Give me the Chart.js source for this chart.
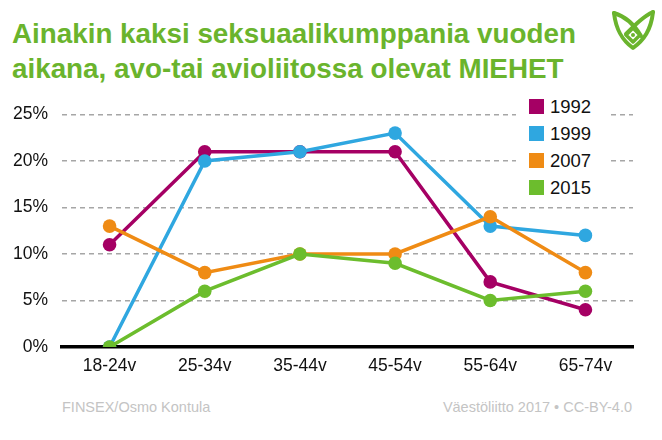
<!DOCTYPE html>
<html>
<head>
<meta charset="utf-8">
<script src="https://cdn.jsdelivr.net/npm/chart.js@4"></script>
<style>
  body { margin: 0; background: #fff; font-family: "Liberation Sans", Arial, sans-serif; }
  #page { position: relative; width: 662px; height: 440px; overflow: hidden; }
  #title { position: absolute; left: 12px; top: 16px; color: #6ab42d; font-weight: bold; font-size: 27.8px; line-height: 35px; }
  #logo { position: absolute; left: 608px; top: 6px; }
  #wrap { position: absolute; left: 0; top: 90px; width: 662px; height: 296px; }
  #legend { position: absolute; left: 516px; top: 92px; width: 92px; height: 110px; background: #fff; }
  .row { position: absolute; left: 13px; font-size: 18.5px; line-height: 20px; color: #111; }
  .row span { display: inline-block; width: 15px; height: 15px; margin-right: 6px; vertical-align: -1px; }
  .foot { position: absolute; top: 399px; font-size: 14.5px; color: #c4c4c4; }
</style>
</head>
<body>
<div id="page">
  <div id="title">Ainakin kaksi seksuaalikumppania vuoden<br>aikana, avo-tai avioliitossa olevat MIEHET</div>
  <svg id="logo" width="50" height="46" viewBox="0 0 50 46">
    <path d="M6 7 C8 24 14 34 25 42 C36 34 43 24 45 6" fill="none" stroke="#6ab42d" stroke-width="4" stroke-linejoin="round" stroke-linecap="round"/>
    <path d="M6 7 C16 10 26 18 33 30" fill="none" stroke="#6ab42d" stroke-width="4" stroke-linecap="round"/>
    <path d="M45 6 C36 10 28 18 18 28" fill="none" stroke="#6ab42d" stroke-width="4" stroke-linecap="round"/>
    <path d="M25 22 L32 29 L25 36 L18 29 Z" fill="#fff" stroke="#6ab42d" stroke-width="3.5" stroke-linejoin="round"/>
    <circle cx="25" cy="29" r="2" fill="#6ab42d"/>
  </svg>
  <div id="wrap"><canvas id="chart"></canvas></div>
  <div id="legend"></div>
  <div class="foot" style="left:62px">FINSEX/Osmo Kontula</div>
  <div class="foot" style="right:30px">Väestöliitto 2017 • CC-BY-4.0</div>
</div>
<script>
// data
var ageGroups = ['18-24v', '25-34v', '35-44v', '45-54v', '55-64v', '65-74v'];
var years = ['1992', '1999', '2007', '2015'];
var v1992 = [11, 21, 21, 21, 7, 4];
var v1999 = [0, 20, 21, 23, 13, 12];
var v2007 = [13, 8, 10, 10, 14, 8];
var v2015 = [0, 6, 10, 9, 5, 6];
var yTicks = [0, 5, 10, 15, 20, 25];

var colors = ['#a50064', '#2fa7e0', '#ef8b14', '#6cbd2d'];
var values = [v1992, v1999, v2007, v2015];

var datasets = [];
for (var i = 0; i < years.length; i++) {
  datasets.push({
    label: years[i],
    data: values[i],
    borderColor: colors[i],
    backgroundColor: colors[i],
    pointBackgroundColor: colors[i],
    pointBorderWidth: 0,
    pointRadius: 6.8,
    borderWidth: 3.5,
    tension: 0,
    order: years.length - i   // myöhempi vuosi päällimmäiseksi
  });
}

// legenda html:nä
var lg = document.getElementById('legend');
for (var j = 0; j < years.length; j++) {
  var r = document.createElement('div');
  r.className = 'row';
  r.style.top = (5 + j * 27) + 'px';
  r.innerHTML = '<span style="background:' + colors[j] + '"></span>' + years[j];
  lg.appendChild(r);
}

var config = {
  type: 'line',
  data: { labels: ageGroups, datasets: datasets },
  options: {
    responsive: false,
    animation: false,
    layout: { padding: { top: 2, right: 29, left: 0, bottom: 0 } },
    plugins: { legend: { display: false }, tooltip: { enabled: false } },
    scales: {
      x: {
        offset: true,
        grid: { display: false, drawTicks: false, offset: true },
        border: { color: '#000', width: 3.5 },
        ticks: { color: '#111', font: { family: 'Liberation Sans', size: 17.5 }, padding: 9 }
      },
      y: {
        min: 0, max: 25,
        afterFit: function(s) { s.width = 62; },
        afterBuildTicks: function(s) { s.ticks = yTicks.map(function(v) { return { value: v }; }); },
        grid: { color: '#a6a6a6', lineWidth: 1.5, drawTicks: false },
        border: { display: true, width: 0, color: 'rgba(0,0,0,0)', dash: [5, 4] },
        ticks: {
          color: '#111', font: { family: 'Liberation Sans', size: 17.5 }, padding: 14,
          callback: function(v) { return v + '%'; }
        }
      }
    }
  }
};

var cv = document.getElementById('chart');
cv.width = 662; cv.height = 296;
new Chart(cv.getContext('2d'), config);
</script>
</body>
</html>
